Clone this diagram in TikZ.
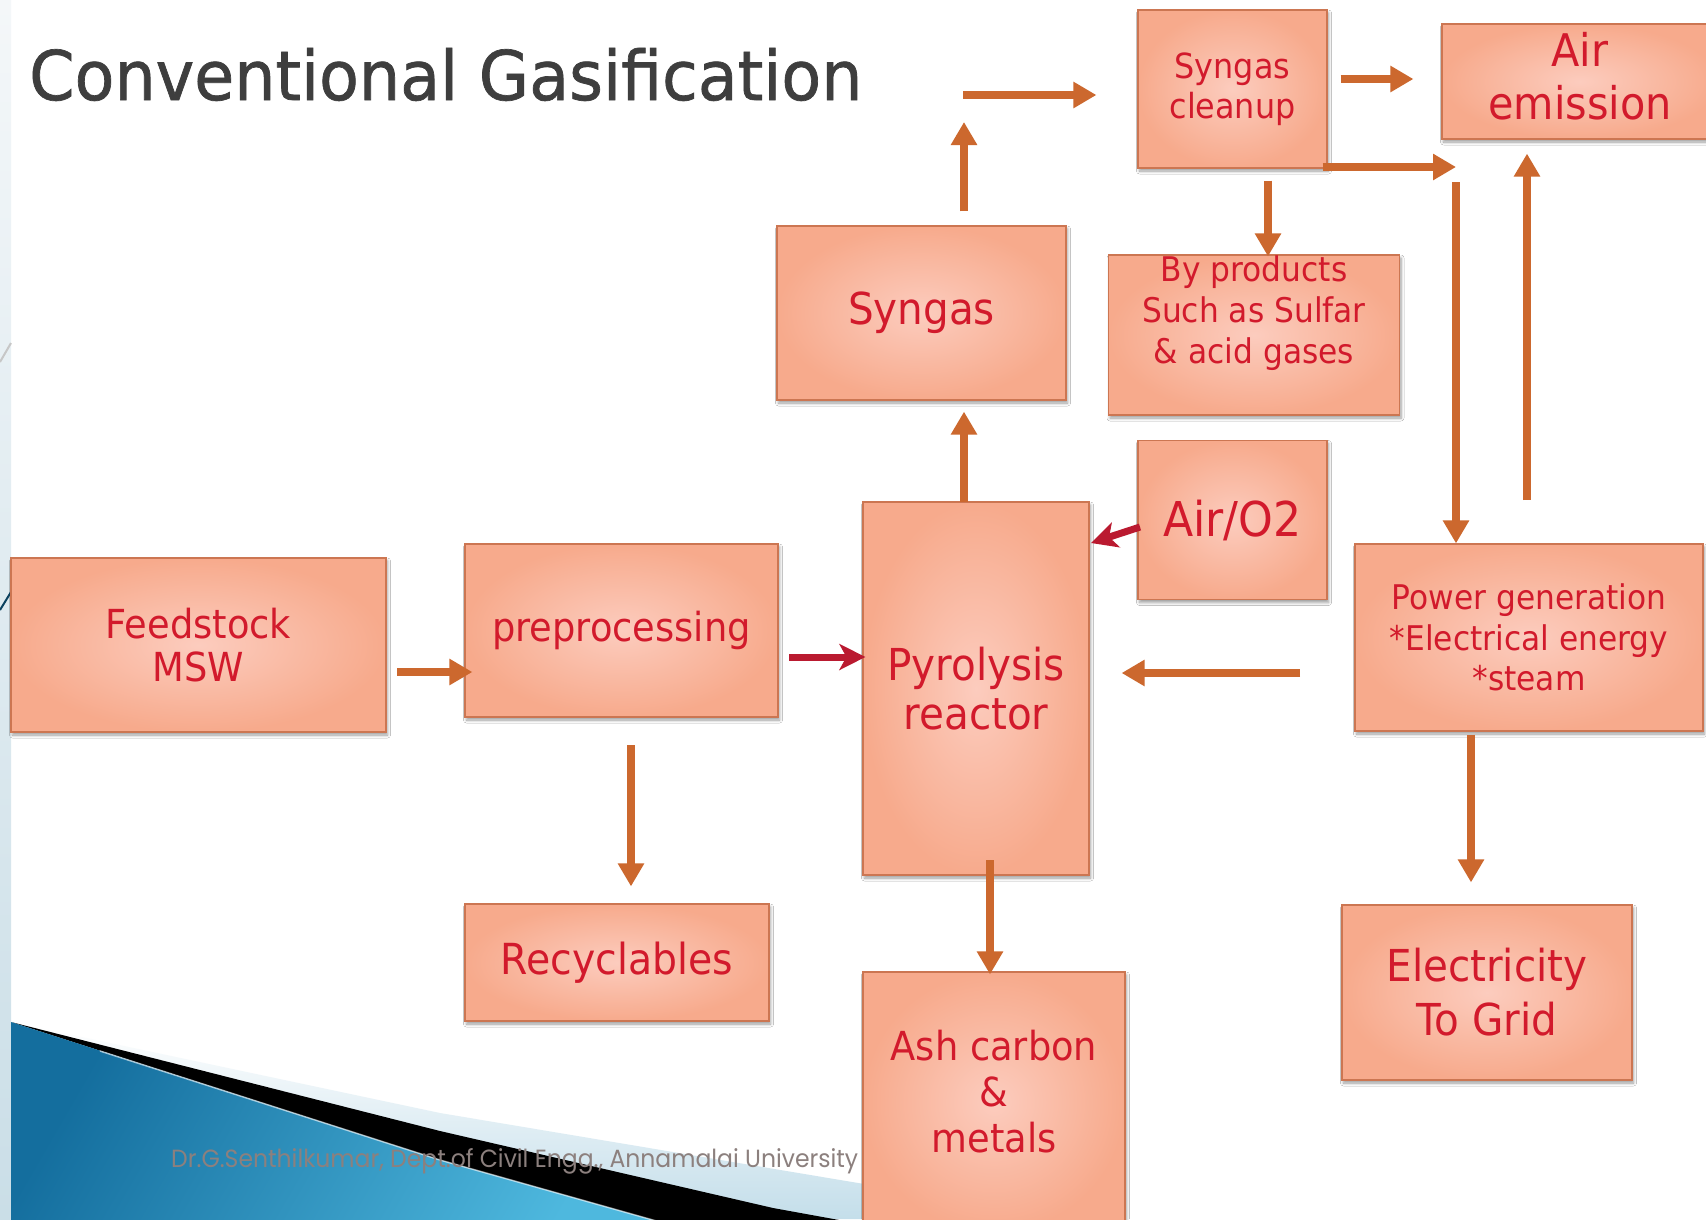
\documentclass[tikz,border=0pt]{standalone}
\usepackage{fontspec}
\usepackage{graphicx}
\setmainfont{DejaVu Sans}[FakeStretch=0.92]
\newfontfamily\titlefont{DejaVu Sans}[FakeStretch=0.95,FakeBold=1]
\newfontfamily\footfont{Poppins}
\usetikzlibrary{arrows.meta,shadows,shadows.blur}

\definecolor{boxin}{RGB}{252,204,190}
\definecolor{boxout}{RGB}{247,170,140}
\definecolor{boxedge}{RGB}{204,118,82}
\definecolor{boxtext}{RGB}{210,26,44}
\definecolor{arrorange}{RGB}{204,104,46}
\definecolor{arrred}{RGB}{186,26,48}
\definecolor{titlegray}{RGB}{62,62,62}
\definecolor{footgray}{RGB}{140,128,126}
\definecolor{swdark}{RGB}{20,110,158}
\definecolor{swlight}{RGB}{78,184,222}
\definecolor{swpale}{RGB}{196,222,234}
\definecolor{stripTop}{RGB}{244,247,249}
\definecolor{stripBot}{RGB}{202,222,231}

\tikzset{
  procbox/.style={draw=boxedge, line width=1.2pt, inner color=boxin, outer color=boxout,
    text=boxtext, align=center, inner sep=0pt,
    blur shadow={shadow xshift=1.5pt, shadow yshift=-3pt, shadow blur radius=3pt,
      shadow blur steps=6, shadow opacity=40}},
  boxlabel/.style={text=boxtext, align=center, inner sep=0pt},
  flow/.style={draw=arrorange, line width=7.5pt, -{Triangle[length=23pt,width=25pt]}},
  redflow/.style={draw=arrred, line width=7pt, -{Stealth[length=26pt,width=26pt,inset=7pt]}},
}

\begin{document}
\begin{tikzpicture}[x=1pt,y=-1pt]
  \useasboundingbox (0,0) rectangle (1706,1219);
  \clip (0,0) rectangle (1706,1219);
  \fill[white] (0,0) rectangle (1706,1219);

  % slide frame strip on the left edge with its two line ends
  \shade[top color=stripTop, bottom color=stripBot] (0,0) rectangle (11,1219);
  \draw[line width=2pt, color=black!22] (0,362) -- (11,343);
  \draw[line width=2pt, color=swdark!60!black] (0,610) -- (11,592);

  % bottom-left swoosh
  \shade[top color=white, bottom color=swpale] (11,1022) -- (440,1113) -- (900,1190) -- (900,1219) -- (11,1219) -- cycle;
  \fill[black] (11,1022) -- (440,1131) -- (773,1208) -- (850,1222) -- (660,1222) -- (440,1160) -- cycle;
  \shade[left color=swdark, right color=swlight, shading angle=60] (11,1022) -- (440,1160) -- (660,1222) -- (11,1222) -- cycle;
  \draw[white, opacity=0.6, line width=1.5pt] (100,1051) -- (440,1160) -- (660,1222);

  % footer
  \node[anchor=base west, inner sep=0pt, text=footgray] (footer) at (171,1167)
    {\resizebox{687pt}{19pt}{\footfont Dr.G.Senthilkumar, Dept.of Civil Engg., Annamalai University}};

  % title
  \node[anchor=base west, inner sep=0pt, text=titlegray, font=\titlefont\fontsize{68.5}{80}\selectfont] (title) at (29,100) {Conventional Gasification};

  % process boxes
  \node[procbox, minimum width=375pt, minimum height=174pt, font=\fontsize{40}{43}\selectfont] (feed) at (198.5,645) {Feedstock\\MSW};
  \node[procbox, minimum width=313pt, minimum height=173pt, font=\fontsize{40}{46}\selectfont] (prep) at (621.5,630.5) {preprocessing};
  \node[procbox, minimum width=304pt, minimum height=117pt, font=\fontsize{42.8}{46}\selectfont] (recy) at (617,962.5) {Recyclables};
  \node[procbox, minimum width=226pt, minimum height=373pt, font=\fontsize{44}{49}\selectfont] (pyro) at (976,688.5) {Pyrolysis\\reactor};
  \node[procbox, minimum width=289pt, minimum height=174pt, font=\fontsize{44}{49}\selectfont] (syn) at (921.5,313) {Syngas};
  \node[procbox, minimum width=189pt, minimum height=158pt, font=\fontsize{34.6}{40}\selectfont] (clean) at (1232.5,89) {Syngas\\cleanup};
  \node[procbox, minimum width=276pt, minimum height=115pt] (air) at (1580,81.5) {};
  \node[boxlabel, font=\fontsize{45}{53}\selectfont] (airtext) at (1580,76) {Air\\emission};
  \node[procbox, minimum width=291pt, minimum height=160pt] (byp) at (1254,335) {};
  \node[boxlabel, font=\fontsize{34}{41}\selectfont] (byptext) at (1254,313) {By products\\Such as Sulfar\\\& acid gases};
  \node[procbox, minimum width=189pt, minimum height=159pt, font=\fontsize{48}{53}\selectfont] (airo) at (1232.5,520) {Air/O2};
  \node[procbox, minimum width=348pt, minimum height=187pt, font=\fontsize{34}{40.5}\selectfont] (power) at (1529,637.5) {Power generation\\*Electrical energy\\*steam};
  \node[procbox, minimum width=290pt, minimum height=175pt, font=\fontsize{44}{54}\selectfont] (elec) at (1487,992.5) {Electricity\\To Grid};
  \node[procbox, minimum width=262pt, minimum height=260pt] (ash) at (994,1102) {};
  \node[boxlabel, font=\fontsize{40}{46}\selectfont] (ashtext) at (994,1092) {Ash carbon\\\&\\metals};

  % connector ends
  \coordinate (a1) at (397,672);
  \coordinate (a2) at (789,657);
  \coordinate (a3) at (631,745);
  \coordinate (a4) at (990,860);
  \coordinate (a5) at (964,502);
  \coordinate (a6) at (964,122);
  \coordinate (a7) at (963,95);
  \coordinate (a8) at (1340,79);
  \coordinate (a9) at (1456,167);
  \coordinate (a10) at (1268,180);
  \coordinate (a11) at (1456,182);
  \coordinate (a12) at (1527,500);
  \coordinate (a13s) at (1140,527);
  \coordinate (a13e) at (1091,543);
  \coordinate (a14) at (1300,673);
  \coordinate (a15) at (1471,734);

  % connectors
  \draw[flow, shorten >=-8pt] (a1) -- (prep.west |- a1);
  \draw[redflow, shorten >=-3pt] (a2) -- (pyro.west |- a2);
  \draw[flow, shorten >=17pt] (a3) -- (a3 |- recy.north);
  \draw[flow, shorten >=-3pt] (a4) -- (a4 |- ash.north);
  \draw[flow, shorten >=11pt] (a5) -- (a5 |- syn.south);
  \draw[flow, shorten <=14pt] (a6 |- syn.north) -- (a6);
  \draw[flow, shorten >=41pt] (a7) -- (clean.west |- a7);
  \draw[flow, shorten <=13pt, shorten >=28pt] (clean.east |- a8) -- (air.west |- a8);
  \draw[flow, shorten <=-5pt] (clean.east |- a9) -- (a9);
  \draw[flow, shorten <=12pt, shorten >=-2pt] (a10 |- clean.south) -- (a10 |- byp.north);
  \draw[flow] (a11) -- (a11 |- power.north);
  \draw[flow, shorten >=14pt] (a12) -- (a12 |- air.south);
  \draw[redflow] (a13s) -- (a13e);
  \draw[flow, shorten >=32pt] (a14) -- (pyro.east |- a14);
  \draw[flow, shorten <=3pt, shorten >=22pt] (a15 |- power.south) -- (a15 |- elec.north);
\end{tikzpicture}
\end{document}
